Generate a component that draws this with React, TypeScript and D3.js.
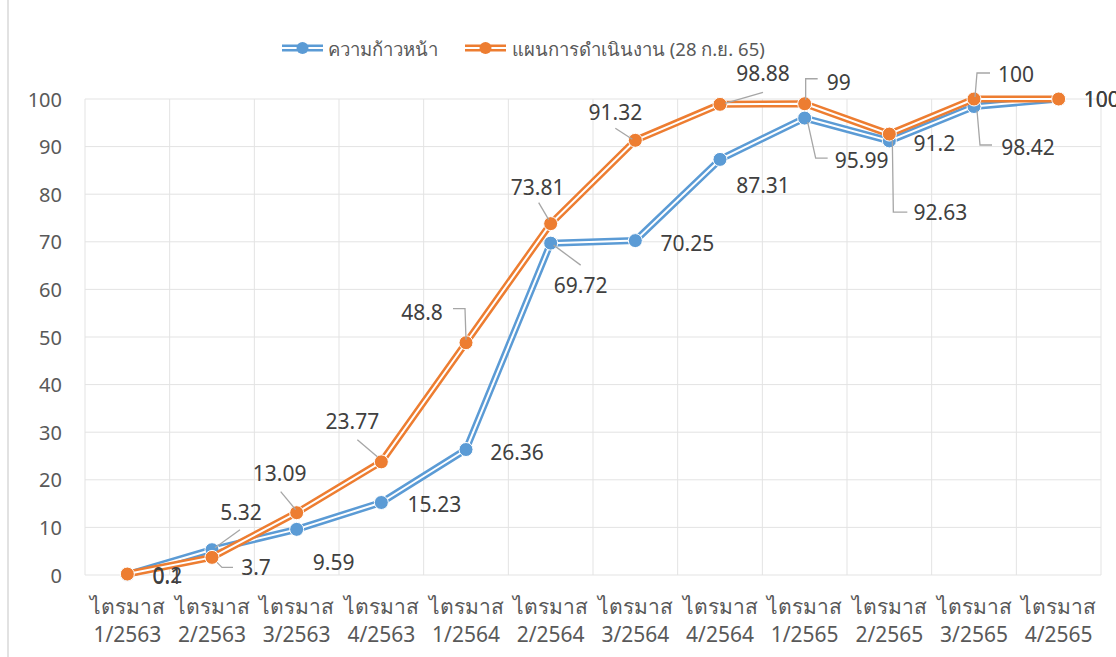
import React from "react";
import * as d3 from "d3";

const categories = [
  "1/2563", "2/2563", "3/2563", "4/2563",
  "1/2564", "2/2564", "3/2564", "4/2564",
  "1/2565", "2/2565", "3/2565", "4/2565",
];
const categoryPrefix = "ไตรมาส";

const progressName = "ความก้าวหน้า";
const progressValues = [0.1, 5.32, 9.59, 15.23, 26.36, 69.72, 70.25, 87.31, 95.99, 91.2, 98.42, 100];

const planName = "แผนการดำเนินงาน (28 ก.ย. 65)";
const planValues = [0.2, 3.7, 13.09, 23.77, 48.8, 73.81, 91.32, 98.88, 99, 92.63, 100, 100];

const yTicks = [0, 10, 20, 30, 40, 50, 60, 70, 80, 90, 100];

// hand placed data labels (offset from the point), like in the excel sheet
const progressLabelOffsets = [
  [40, 1], [29, -38], [37, 33], [53, 1], [51, 2], [30, 42],
  [52, 2], [43, 26], [57, 42], [45, 2], [54, 40], [43, 0],
];
const planLabelOffsets = [
  [40, 1], [44, 10], [-17, -40], [-29, -41], [-44, -31], [-13, -37],
  [-20, -28], [43, -31], [34, -22], [51, 78], [42, -25], [43, 0],
];
// leader lines, relative to point
const progressLeaders: (number[][] | null)[] = [
  null, [[3, -2], [28, -20]], null, null, null, [[3, 2], [30, 22]],
  null, null, [[3, 4], [11, 40], [23, 40]], null, [[3, 4], [6, 38.5], [18, 38.5]], null,
];
const planLeaders: (number[][] | null)[] = [
  null, [[5, 5], [10, 10], [21, 10]], [[-16, -21], [-1, -3]], [[-24, -22], [-4, -5]],
  [[-13, -34], [-1, -34], [0, -3]], [[-12, -21], [-2, -4]], [[-20, -12], [-3, -1]],
  [[5, -1], [43, -12]], [[1, -4], [1, -25], [13, -25]], [[3, 6], [4, 78], [18, 78]],
  [[1, -2], [3, -26], [16, -26]], null,
];

const W = 1116;
const H = 657;
const plot = { left: 85, right: 1101, top: 99, bottom: 575 };
const BLUE = "#5B9BD5";
const ORANGE = "#ED7D31";
const FONT = "'Noto Sans', 'Open Sans', 'DejaVu Sans', sans-serif";

export default function App() {
  const x = d3.scaleBand<string>().domain(categories).range([plot.left, plot.right]);
  const y = d3.scaleLinear().domain([0, 100]).range([plot.bottom, plot.top]);
  const cx = (c: string) => (x(c) as number) + x.bandwidth() / 2;
  const line = d3
    .line<number>()
    .x((_d, i) => cx(categories[i]))
    .y((d) => y(d));

  const series = [
    { name: progressName, values: progressValues, color: BLUE, offs: progressLabelOffsets, leaders: progressLeaders },
    { name: planName, values: planValues, color: ORANGE, offs: planLabelOffsets, leaders: planLeaders },
  ];

  const bounds = [...categories.map((c) => x(c) as number), plot.right];

  return (
    <svg width={W} height={H} style={{ position: "absolute", left: 0, top: 0, background: "#fff" }} fontFamily={FONT}>
      <rect x={0} y={0} width={W} height={H} fill="#fff" />
      <line x1={8} x2={8} y1={0} y2={H} stroke="#d9d9d9" strokeWidth={1.5} />

      {/* grid */}
      <g stroke="#e3e3e3" strokeWidth={1}>
        {yTicks.map((t) => (
          <line key={"h" + t} x1={plot.left} x2={plot.right} y1={y(t)} y2={y(t)} />
        ))}
        {bounds.map((b, i) => (
          <line key={"v" + i} x1={b} x2={b} y1={plot.top} y2={plot.bottom} />
        ))}
      </g>

      {/* y axis labels */}
      <g fill="#595959" fontSize={20} textAnchor="end">
        {yTicks.map((t) => (
          <text key={t} x={62} y={y(t)} dominantBaseline="central">{t}</text>
        ))}
      </g>

      {/* x axis labels */}
      <g fill="#595959" fontSize={21} textAnchor="middle">
        {categories.map((c) => (
          <text key={c} x={cx(c)} y={606} dominantBaseline="central">
            <tspan x={cx(c)}>{categoryPrefix}</tspan>
            <tspan x={cx(c)} dy={28}>{c}</tspan>
          </text>
        ))}
      </g>

      {/* series */}
      {series.map((s) => (
        <g key={s.name}>
          <path d={line(s.values) || ""} fill="none" stroke={s.color} strokeWidth={7} strokeLinejoin="round" />
          <path d={line(s.values) || ""} fill="none" stroke="#fff" strokeWidth={2} strokeLinejoin="round" />
          {s.values.map((v, i) => (
            <circle key={i} cx={cx(categories[i])} cy={y(v)} r={7} fill={s.color} stroke="#fff" strokeWidth={1} />
          ))}
        </g>
      ))}

      {/* data labels */}
      {series.map((s) => (
        <g key={"lab" + s.name}>
          {s.values.map((v, i) => {
            const px = cx(categories[i]);
            const py = y(v);
            const ld = s.leaders[i];
            return (
              <g key={i}>
                {ld && (
                  <polyline
                    points={ld.map((p) => `${px + p[0]},${py + p[1]}`).join(" ")}
                    fill="none"
                    stroke="#a6a6a6"
                    strokeWidth={1.3}
                  />
                )}
                <text
                  x={px + s.offs[i][0]}
                  y={py + s.offs[i][1]}
                  textAnchor="middle"
                  dominantBaseline="central"
                  fontSize={21}
                  fill="#404040"
                >
                  {v}
                </text>
              </g>
            );
          })}
        </g>
      ))}

      {/* legend */}
      <g fontSize={18.5} fill="#595959">
        {[
          { s: series[0], x0: 282, tx: 328 },
          { s: series[1], x0: 465, tx: 512 },
        ].map(({ s, x0, tx }) => (
          <g key={"leg" + s.name}>
            <line x1={x0} x2={x0 + 41} y1={48} y2={48} stroke={s.color} strokeWidth={7} />
            <line x1={x0} x2={x0 + 41} y1={48} y2={48} stroke="#fff" strokeWidth={2} />
            <circle cx={x0 + 20.5} cy={48} r={6} fill={s.color} />
            <text x={tx} y={48} dominantBaseline="central">{s.name}</text>
          </g>
        ))}
      </g>
    </svg>
  );
}
